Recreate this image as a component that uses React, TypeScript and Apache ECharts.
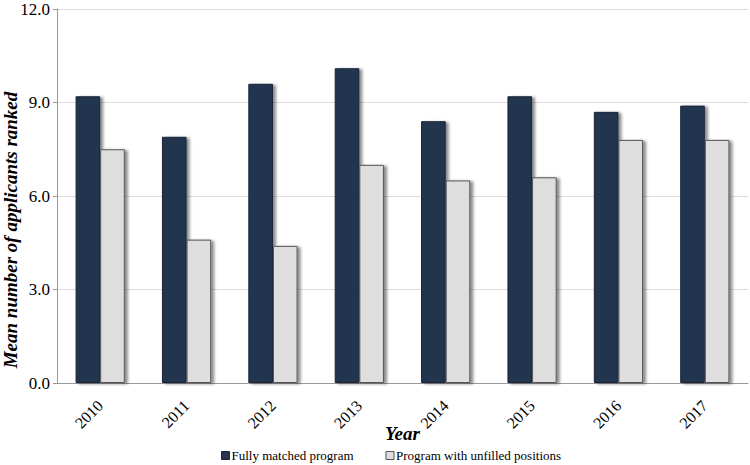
import React, { useEffect, useRef } from "react";
import * as echarts from "echarts";

const years = ["2010", "2011", "2012", "2013", "2014", "2015", "2016", "2017"];
const fullyMatched = [9.2, 7.9, 9.6, 10.1, 8.4, 9.2, 8.7, 8.9];
const unfilled = [7.5, 4.6, 4.4, 7.0, 6.5, 6.6, 7.8, 7.8];
const yTicks = { min: 0, max: 12, interval: 3 };

const FONT = "Liberation Serif";

export default function App() {
  const ref = useRef<HTMLDivElement>(null);
  useEffect(() => {
    if (!ref.current) return;
    const chart = echarts.init(ref.current, null, { renderer: "svg" });
    chart.setOption({
      animation: false,
      backgroundColor: "#ffffff",
      textStyle: { fontFamily: FONT },
      grid: { left: 57, right: 2, top: 9, bottom: 82, containLabel: false, outerBoundsMode: "none" },
      legend: {
        bottom: 3,
        left: 221,
        padding: 0,
        itemWidth: 8,
        itemHeight: 8,
        itemGap: 32,
        icon: "rect",
        textStyle: { fontFamily: FONT, fontSize: 13, color: "#000", padding: [0, 0, 0, -3] },
        data: [
          { name: "Fully matched program", itemStyle: { color: "#243450", borderColor: "#1a2438", borderWidth: 1, shadowBlur: 0, shadowOffsetX: 0 } },
          { name: "Program with unfilled positions", itemStyle: { color: "#dedede", borderColor: "#555", borderWidth: 1, shadowBlur: 0, shadowOffsetX: 0 } },
        ],
      },
      xAxis: {
        type: "category",
        data: years,
        name: "Year",
        nameLocation: "middle",
        nameGap: 41,
        nameMoveOverlap: false,
        nameTextStyle: { fontFamily: FONT, fontSize: 19, fontWeight: "bold", fontStyle: "italic", color: "#000", verticalAlign: "top" },
        axisLine: { lineStyle: { color: "#999", width: 1 } },
        axisTick: { show: false },
        axisLabel: { rotate: 45, fontFamily: FONT, fontSize: 16, color: "#000", margin: 20 },
      },
      yAxis: {
        type: "value",
        min: yTicks.min,
        max: yTicks.max,
        interval: yTicks.interval,
        name: "Mean number of applicants ranked",
        nameLocation: "middle",
        nameGap: 37,
        nameMoveOverlap: false,
        nameTextStyle: {
          fontFamily: FONT,
          fontSize: 19,
          fontWeight: "bold",
          fontStyle: "italic",
          color: "#000",
          padding: [0, 68, 0, 0],
        },
        axisLine: { show: true, lineStyle: { color: "#999", width: 1 } },
        axisTick: { show: true, length: 4, lineStyle: { color: "#999" } },
        axisLabel: { fontFamily: FONT, fontSize: 17, color: "#000", margin: 7, formatter: (v: number) => v.toFixed(1) },
        splitLine: { show: true, lineStyle: { color: "#dddddd", width: 1 } },
      },
      series: [
        {
          name: "Fully matched program",
          type: "bar",
          data: fullyMatched,
          barWidth: "28.5%",
          barGap: "0%",
          itemStyle: {
            color: "#243450",
            borderColor: "#1a2438",
            borderWidth: 1,
            shadowColor: "rgba(0,0,0,0.45)",
            shadowBlur: 3,
            shadowOffsetX: 3,
            shadowOffsetY: 1,
          },
        },
        {
          name: "Program with unfilled positions",
          type: "bar",
          data: unfilled,
          barWidth: "28.5%",
          barGap: "0%",
          itemStyle: {
            color: "#dedede",
            borderColor: "#555555",
            borderWidth: 1,
            shadowColor: "rgba(0,0,0,0.45)",
            shadowBlur: 3,
            shadowOffsetX: 3,
            shadowOffsetY: 1,
          },
        },
      ],
    });
    return () => chart.dispose();
  }, []);
  return <div ref={ref} style={{ width: 750, height: 465, position: "absolute", left: 0, top: 0 }} />;
}
